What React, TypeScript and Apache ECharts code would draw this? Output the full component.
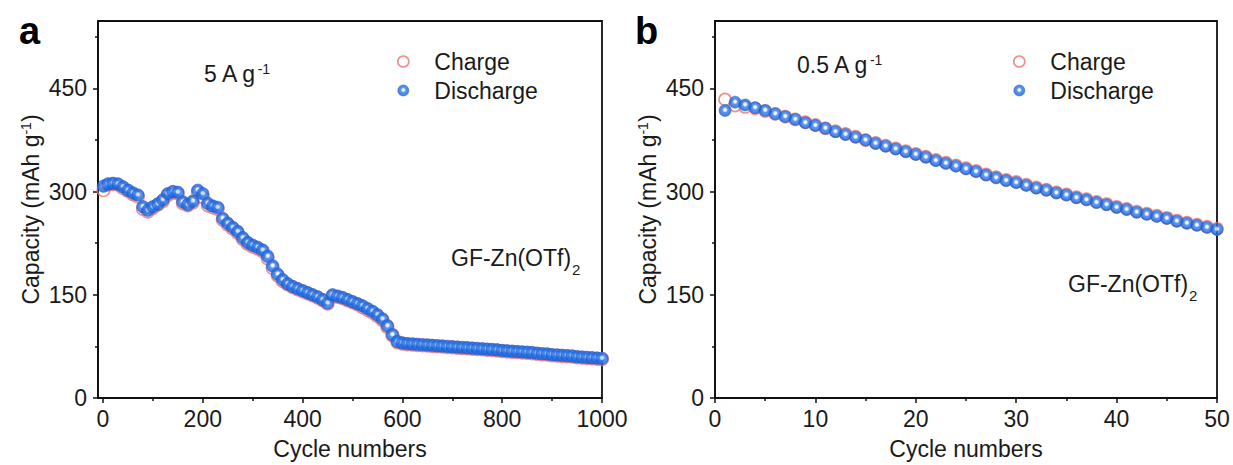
import React, { useEffect, useRef } from "react";
import * as echarts from "echarts";

// ---------- data ----------
const CYCLES_A = [
  1, 10, 20, 30, 40, 50, 60, 70, 80, 90, 100, 110, 120, 130, 140, 150, 160, 170, 180, 190,
  200, 210, 220, 230, 240, 250, 260, 270, 280, 290, 300, 310, 320, 330, 340, 350, 360, 370, 380, 390,
  400, 410, 420, 430, 440, 450, 460, 470, 480, 490, 500, 510, 520, 530, 540, 550, 560, 570, 580, 590,
  600, 610, 620, 630, 640, 650, 660, 670, 680, 690, 700, 710, 720, 730, 740, 750, 760, 770, 780, 790,
  800, 810, 820, 830, 840, 850, 860, 870, 880, 890, 900, 910, 920, 930, 940, 950, 960, 970, 980, 990, 1000,
];
const DISCHARGE_A = [
  308, 311, 312, 311, 307, 302, 298, 295, 278, 273, 278, 282, 288, 297, 300, 299, 285, 281, 286, 302,
  297, 283, 279, 277, 261, 254, 248, 242, 233, 226, 222, 219, 215, 206, 192, 180, 172, 166, 162, 159,
  156, 153, 150, 147, 143, 138, 150, 148, 146, 143, 140, 137, 134, 130, 126, 121, 115, 105, 92, 82,
  80, 79, 78.5, 78, 77.5, 77, 76.5, 76, 75.5, 75, 74.5, 74, 73.5, 73, 72.5, 72, 71.5, 71, 70.5, 70,
  69, 68.5, 68, 67.5, 67, 66.5, 66, 65, 64.5, 64, 63, 62.5, 62, 61.5, 61, 60, 59.5, 59, 58.5, 58, 57.5,
];
const CHARGE_A = [
  302, 310, 311, 310, 305, 301, 296, 293, 275, 271, 276, 281, 286, 295, 299, 297, 283, 280, 284, 299,
  292, 280, 277, 275, 259, 252, 246, 240, 231, 224, 220, 217, 213, 203, 189, 178, 170, 165, 161, 158,
  155, 152, 149, 146, 142, 137, 148, 147, 145, 142, 139, 136, 132, 128, 124, 119, 113, 103, 91, 81,
  79, 78, 77.5, 77, 76.5, 76, 75.5, 75, 74.5, 74, 73.5, 73, 72.5, 72, 71.5, 71, 70.5, 70, 69.5, 69,
  68, 67.5, 67, 66.5, 66, 65.5, 65, 64, 63.5, 63, 62, 61.5, 61, 60.5, 60, 59, 58.5, 58, 57.5, 57, 56.5,
];

const CYCLES_B = [
  1, 2, 3, 4, 5, 6, 7, 8, 9, 10, 11, 12, 13, 14, 15, 16, 17, 18, 19, 20, 21, 22, 23, 24, 25,
  26, 27, 28, 29, 30, 31, 32, 33, 34, 35, 36, 37, 38, 39, 40, 41, 42, 43, 44, 45, 46, 47, 48, 49, 50,
];
const DISCHARGE_B = [
  418, 430, 426, 422, 418, 413, 409, 405, 400, 396, 392, 387, 383, 379, 375, 370, 366, 362, 358, 354,
  350, 345, 341, 337, 333, 329, 324, 320, 316, 313, 309, 305, 302, 298, 295, 291, 288, 284, 281, 277,
  274, 270, 267, 264, 261, 257, 254, 251, 248, 245,
];
const CHARGE_B = [
  434, 425, 423, 421, 417, 413, 409, 405, 401, 397, 392, 388, 384, 380, 375, 371, 367, 363, 359, 355,
  351, 346, 342, 338, 334, 330, 325, 321, 317, 314, 310, 306, 303, 299, 296, 292, 289, 285, 282, 278,
  275, 271, 268, 265, 262, 258, 255, 252, 249, 246,
];

const X_TICKS_A = [0, 200, 400, 600, 800, 1000];
const X_MINOR_A = [100, 300, 500, 700, 900];
const X_TICKS_B = [0, 10, 20, 30, 40, 50];
const X_MINOR_B = [5, 15, 25, 35, 45];
const Y_TICKS = [0, 150, 300, 450];
const Y_MINOR = [75, 225, 375, 525];

const FONT = "'Liberation Sans', Arial, Helvetica, sans-serif";
const INK = "#1a1a1a";
const RED = "#e87474";
const FS = 23;

const pairs = (xs: number[], ys: number[]) => xs.map((x, i) => [x, ys[i]]);

const blueBall = {
  type: "radial",
  x: 0.5,
  y: 0.45,
  r: 0.55,
  colorStops: [
    { offset: 0, color: "#ffffff" },
    { offset: 0.2, color: "#e4eeff" },
    { offset: 0.42, color: "#2f7bec" },
    { offset: 0.8, color: "#1d67dd" },
    { offset: 1, color: "#1856c6" },
  ],
};

const plain = (v: number) => String(v);

function mainX(gridIndex: number, min: number, max: number, ticks: number[]) {
  return {
    type: "value",
    gridIndex,
    min,
    max,
    position: "bottom",
    name: "Cycle numbers",
    nameLocation: "middle",
    nameGap: 39,
    nameTextStyle: { fontSize: FS, color: INK, fontFamily: FONT },
    axisLine: { show: true, onZero: false, lineStyle: { color: "#111", width: 1.8 } },
    axisTick: { show: true, inside: false, length: 5, customValues: ticks, lineStyle: { color: "#111", width: 1.5 } },
    axisLabel: { show: true, customValues: ticks, formatter: plain, margin: 9, fontSize: FS, color: INK, fontFamily: FONT },
    splitLine: { show: false },
  };
}
function minorX(gridIndex: number, min: number, max: number, ticks: number[]) {
  return {
    type: "value",
    gridIndex,
    min,
    max,
    position: "bottom",
    axisLine: { show: false, onZero: false },
    axisTick: { show: true, inside: false, length: 3, customValues: ticks, lineStyle: { color: "#111", width: 1.5 } },
    axisLabel: { show: false },
    splitLine: { show: false },
  };
}
function mainY(gridIndex: number) {
  return {
    type: "value",
    gridIndex,
    min: 0,
    max: 548,
    position: "left",
    name: "Capacity (mAh g{sup|-1})",
    nameLocation: "middle",
    nameGap: 56,
    nameRotate: 90,
    nameTextStyle: {
      fontSize: FS,
      color: INK,
      fontFamily: FONT,
      rich: { sup: { fontSize: 14, color: INK, fontFamily: FONT, verticalAlign: "top" } },
    },
    axisLine: { show: true, onZero: false, lineStyle: { color: "#111", width: 1.8 } },
    axisTick: { show: true, inside: false, length: 5, customValues: Y_TICKS, lineStyle: { color: "#111", width: 1.5 } },
    axisLabel: { show: true, customValues: Y_TICKS, formatter: plain, margin: 11, fontSize: FS, color: INK, fontFamily: FONT },
    splitLine: { show: false },
  };
}
function minorY(gridIndex: number) {
  return {
    type: "value",
    gridIndex,
    min: 0,
    max: 548,
    position: "left",
    axisLine: { show: false, onZero: false },
    axisTick: { show: true, inside: false, length: 3, customValues: Y_MINOR, lineStyle: { color: "#111", width: 1.5 } },
    axisLabel: { show: false },
    splitLine: { show: false },
  };
}

function chargeSeries(name: string, axis: number, data: number[][], size: number) {
  return {
    name,
    type: "scatter",
    xAxisIndex: axis,
    yAxisIndex: axis,
    symbol: "circle",
    symbolSize: size,
    data,
    itemStyle: { color: "rgba(255,255,255,0)", borderColor: RED, borderWidth: 1.6 },
    z: 2,
  };
}
function dischargeSeries(name: string, axis: number, data: number[][], size: number) {
  return {
    name,
    type: "scatter",
    xAxisIndex: axis,
    yAxisIndex: axis,
    symbol: "circle",
    symbolSize: size,
    data,
    itemStyle: { color: blueBall, borderColor: "#1a60d6", borderWidth: 0.6 },
    z: 3,
  };
}

function legendAt(left: number) {
  return {
    left,
    top: 45,
    orient: "vertical",
    itemWidth: 52,
    itemHeight: 11,
    itemGap: 6,
    symbolKeepAspect: true,
    selectedMode: false,
    textStyle: { fontSize: FS, color: INK, fontFamily: FONT },
    data: [
      { name: "Charge", icon: "circle", itemStyle: { color: "rgba(255,255,255,0)", borderColor: RED, borderWidth: 1.6 } },
      { name: "Discharge", icon: "circle", itemStyle: { color: blueBall, borderColor: "#1a60d6", borderWidth: 0.6 } },
    ],
  };
}

function txt(x: number, y: number, text: string, size: number, extra: any = {}) {
  return {
    type: "text",
    x,
    y,
    z: 10,
    style: {
      text,
      fontSize: size,
      fontFamily: FONT,
      fill: INK,
      align: "left",
      verticalAlign: "top",
      rich: {
        sup: { fontSize: 14, fontFamily: FONT, fill: INK, verticalAlign: "top" },
      },
      ...extra,
    },
  };
}

export default function App() {
  const ref = useRef<HTMLDivElement>(null);
  useEffect(() => {
    if (!ref.current) return;
    const chart = echarts.init(ref.current, null, { renderer: "svg" });
    const option: any = {
      animation: false,
      backgroundColor: "#ffffff",
      textStyle: { fontFamily: FONT },
      grid: [
        { left: 98, top: 21, width: 504, height: 382, show: true, borderColor: "#111", borderWidth: 1.8, backgroundColor: "transparent" },
        { left: 715, top: 21, width: 502, height: 382, show: true, borderColor: "#111", borderWidth: 1.8, backgroundColor: "transparent" },
      ],
      xAxis: [
        mainX(0, -10, 1000, X_TICKS_A),
        minorX(0, -10, 1000, X_MINOR_A),
        mainX(1, 0, 50, X_TICKS_B),
        minorX(1, 0, 50, X_MINOR_B),
      ],
      yAxis: [mainY(0), minorY(0), mainY(1), minorY(1)],
      legend: [legendAt(392), legendAt(1008)],
      series: [
        chargeSeries("Charge", 0, pairs(CYCLES_A, CHARGE_A), 12.5),
        dischargeSeries("Discharge", 0, pairs(CYCLES_A, DISCHARGE_A), 12.5),
        chargeSeries("Charge", 2, pairs(CYCLES_B, CHARGE_B), 12),
        dischargeSeries("Discharge", 2, pairs(CYCLES_B, DISCHARGE_B), 12),
      ],
      graphic: [
        txt(19, 12, "a", 38, { fontWeight: "bold", fill: "#000" }),
        txt(635, 12, "b", 38, { fontWeight: "bold", fill: "#000" }),
        txt(204, 62, "5 A g{sup|-1}", FS),
        txt(797, 53, "0.5 A g{sup|-1}", FS),
        txt(451, 246, "GF-Zn(OTf)", FS),
        txt(572, 262, "2", 15),
        txt(1068, 272, "GF-Zn(OTf)", FS),
        txt(1189, 288, "2", 15),
      ],
    };
    chart.setOption(option);
    return () => chart.dispose();
  }, []);
  return (
    <div
      ref={ref}
      style={{ position: "fixed", left: 0, top: 0, width: 1233, height: 465, background: "#fff" }}
    />
  );
}
